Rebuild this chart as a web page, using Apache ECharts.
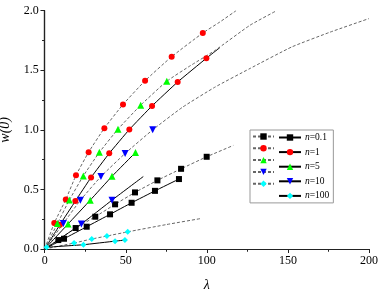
<!DOCTYPE html>
<html><head><meta charset="utf-8">
<script src="https://cdn.jsdelivr.net/npm/echarts/dist/echarts.min.js"></script>
<style>html,body{margin:0;padding:0;background:#fff}#c{width:382px;height:295px}</style>
</head><body><div id="c"></div>
<script>
// ---- data ----
const seriesLabels = ['0.1', '1', '5', '10', '100'];
const seriesColors = ['#000000', '#ff0000', '#00ff00', '#0000ff', '#00ffff'];
const seriesSymbols = ['rect', 'circle', 'triangle', 'triangle', 'diamond'];
const seriesRotate = [0, 0, 0, 180, 0];

// markers on the dashed curves
const n01Dash = [[8.4,0.075],[19.1,0.176],[31.2,0.271],[43.4,0.375],[55.7,0.475],[69.5,0.576],[84.1,0.673],[99.9,0.774]];
const n1Dash = [[5.9,0.218],[13.0,0.415],[19.3,0.618],[27.1,0.813],[36.8,1.014],[48.3,1.213],[61.9,1.412],[78.3,1.614],[97.5,1.813]];
const n5Dash = [[7.8,0.213],[15.2,0.411],[23.8,0.613],[33.7,0.811],[45.2,1.006],[59.2,1.207],[75.3,1.408]];
const n10Dash = [[11.5,0.215],[22.0,0.409],[34.7,0.608],[49.6,0.802],[66.6,1.0]];
const n100Dash = [[18.1,0.050],[29.0,0.084],[38.4,0.109],[51.2,0.144]];
// continuation of the dashed curves beyond the last marker
const n01DashTail = [[116.3,0.869]];
const n1DashTail = [[108,1.905],[118,2.0]];
const n5DashTail = [[90,1.54],[105.2,1.668],[126.6,1.878],[143,2.0]];
const n10DashTail = [[85,1.19],[105.2,1.36],[126.6,1.515],[152.4,1.696],[176,1.82],[200,1.934]];
const n100DashTail = [[75,0.205],[96.9,0.257]];

// markers on the solid lines
const n01Solid = [[11.9,0.086],[25.9,0.187],[40.3,0.291],[53.6,0.388],[68.0,0.488],[82.8,0.587]];
const n1Solid = [[9.4,0.204],[18.9,0.402],[28.6,0.601],[39.8,0.803],[52.2,1.003],[66.2,1.201],[82.0,1.402],[99.7,1.601]];
const n5Solid = [[14.4,0.21],[28.1,0.41],[41.5,0.61],[56.0,0.81]];
const n10Solid = [[22.6,0.21],[41.5,0.41]];
const n100Solid = [[1.2,0.014],[23.9,0.036],[43.4,0.066],[49.5,0.075]];
// continuation of the solid lines beyond the last marker
const n01SolidTail = [];
const n1SolidTail = [[108,1.69]];
const n5SolidTail = [];
const n10SolidTail = [[60.8,0.608]];
const n100SolidTail = [];

const dashSets = [n01Dash, n1Dash, n5Dash, n10Dash, n100Dash];
const dashTails = [n01DashTail, n1DashTail, n5DashTail, n10DashTail, n100DashTail];
const solidSets = [n01Solid, n1Solid, n5Solid, n10Solid, n100Solid];
const solidTails = [n01SolidTail, n1SolidTail, n5SolidTail, n10SolidTail, n100SolidTail];

const xTicks = {min:0, max:200, interval:50};
const yTicks = {min:0, max:2.0, interval:0.5};

// ---- chart ----
const FONT = 'Liberation Serif';
function build(pts, tail) {
  const d = [{value:[0,0], symbol:'none'}];
  pts.forEach(p => d.push({value:p}));
  tail.forEach(p => d.push({value:p, symbol:'none'}));
  return d;
}
const series = [];
const dashNames = [], solidNames = [];
for (let i = 0; i < 5; i++) {
  const dn = 'dash' + i, sn = 'n=' + seriesLabels[i];
  dashNames.push(dn); solidNames.push(sn);
  const sz = seriesSymbols[i]==='triangle' ? 7 : 6;
  series.push({
    type:'line', name:dn, data:build(dashSets[i], dashTails[i]),
    smooth:0.15,
    symbol:seriesSymbols[i], symbolRotate:seriesRotate[i], symbolSize:sz,
    itemStyle:{color:seriesColors[i]},
    lineStyle:{color:'#666', width:1, type:[3,2]}, z:3, animation:false
  });
  series.push({
    type:'line', name:sn, data:build(solidSets[i], solidTails[i]),
    smooth:0.1,
    symbol:seriesSymbols[i], symbolRotate:seriesRotate[i], symbolSize:sz,
    itemStyle:{color:seriesColors[i]},
    lineStyle:{color:'#000', width:1, type:'solid'}, z:3, animation:false
  });
}

const axisLine = {show:true, lineStyle:{color:'#222', width:1.2}};
const chart = echarts.init(document.getElementById('c'), null, {renderer:'canvas'});
chart.setOption({
  animation:false,
  backgroundColor:'#fff',
  grid:{left:44.7, right:13, top:10.7, bottom:46, containLabel:false, outerBoundsMode:'none'},
  xAxis:[
    {type:'value', position:'bottom', min:xTicks.min, max:xTicks.max, interval:xTicks.interval,
     axisLine:axisLine, axisTick:{show:true, inside:false, length:4, lineStyle:{color:'#222'}},
     minorTick:{show:true, splitNumber:2, length:2.5, lineStyle:{color:'#222'}},
     splitLine:{show:false},
     axisLabel:{fontFamily:FONT, fontSize:12, color:'#000', margin:6},
     name:'λ', nameLocation:'middle', nameGap:29,
     nameTextStyle:{fontFamily:FONT, fontSize:14, fontStyle:'italic', color:'#000'}},
    {type:'value', position:'top', min:xTicks.min, max:xTicks.max, interval:xTicks.interval,
     axisLine:axisLine, axisTick:{show:true, inside:true, length:4, lineStyle:{color:'#222'}},
     minorTick:{show:true, splitNumber:2, length:2.5, lineStyle:{color:'#222'}},
     splitLine:{show:false}, axisLabel:{show:false}}
  ],
  yAxis:[
    {type:'value', position:'left', min:yTicks.min, max:yTicks.max, interval:yTicks.interval,
     axisLine:axisLine, axisTick:{show:true, inside:false, length:4, lineStyle:{color:'#222'}},
     minorTick:{show:true, splitNumber:2, length:2.5, lineStyle:{color:'#222'}},
     splitLine:{show:false},
     axisLabel:{fontFamily:FONT, fontSize:12, color:'#000', margin:6, formatter:v=>v.toFixed(1)},
     name:'w(0)', nameLocation:'middle', nameGap:26,
     nameTextStyle:{fontFamily:FONT, fontSize:14, fontStyle:'italic', color:'#000'}},
    {type:'value', position:'right', min:yTicks.min, max:yTicks.max, interval:yTicks.interval,
     axisLine:axisLine, axisTick:{show:true, inside:true, length:4, lineStyle:{color:'#222'}},
     minorTick:{show:true, splitNumber:2, length:2.5, lineStyle:{color:'#222'}},
     splitLine:{show:false}, axisLabel:{show:false}}
  ],
  legend:[
    {data:solidNames, orient:'vertical', left:250, top:130, padding:[2.5,4,2,28],
     itemWidth:22, itemHeight:8, itemGap:4.6, selectedMode:false,
     borderColor:'#999', borderWidth:1, backgroundColor:'#fff', z:4,
     formatter: name => '{i|n}' + name.slice(1),
     textStyle:{fontFamily:FONT, fontSize:9.5, color:'#000', padding:[0,0,0,-1],
       rich:{i:{fontFamily:FONT, fontSize:9.5, fontStyle:'italic', color:'#000'}}}},
    {data:dashNames, orient:'vertical', left:252, top:132.5, padding:0,
     itemWidth:21, itemHeight:8, itemGap:4.6, selectedMode:false, z:6,
     formatter: () => '', textStyle:{fontSize:1}}
  ],
  series:series
});
</script></body></html>
